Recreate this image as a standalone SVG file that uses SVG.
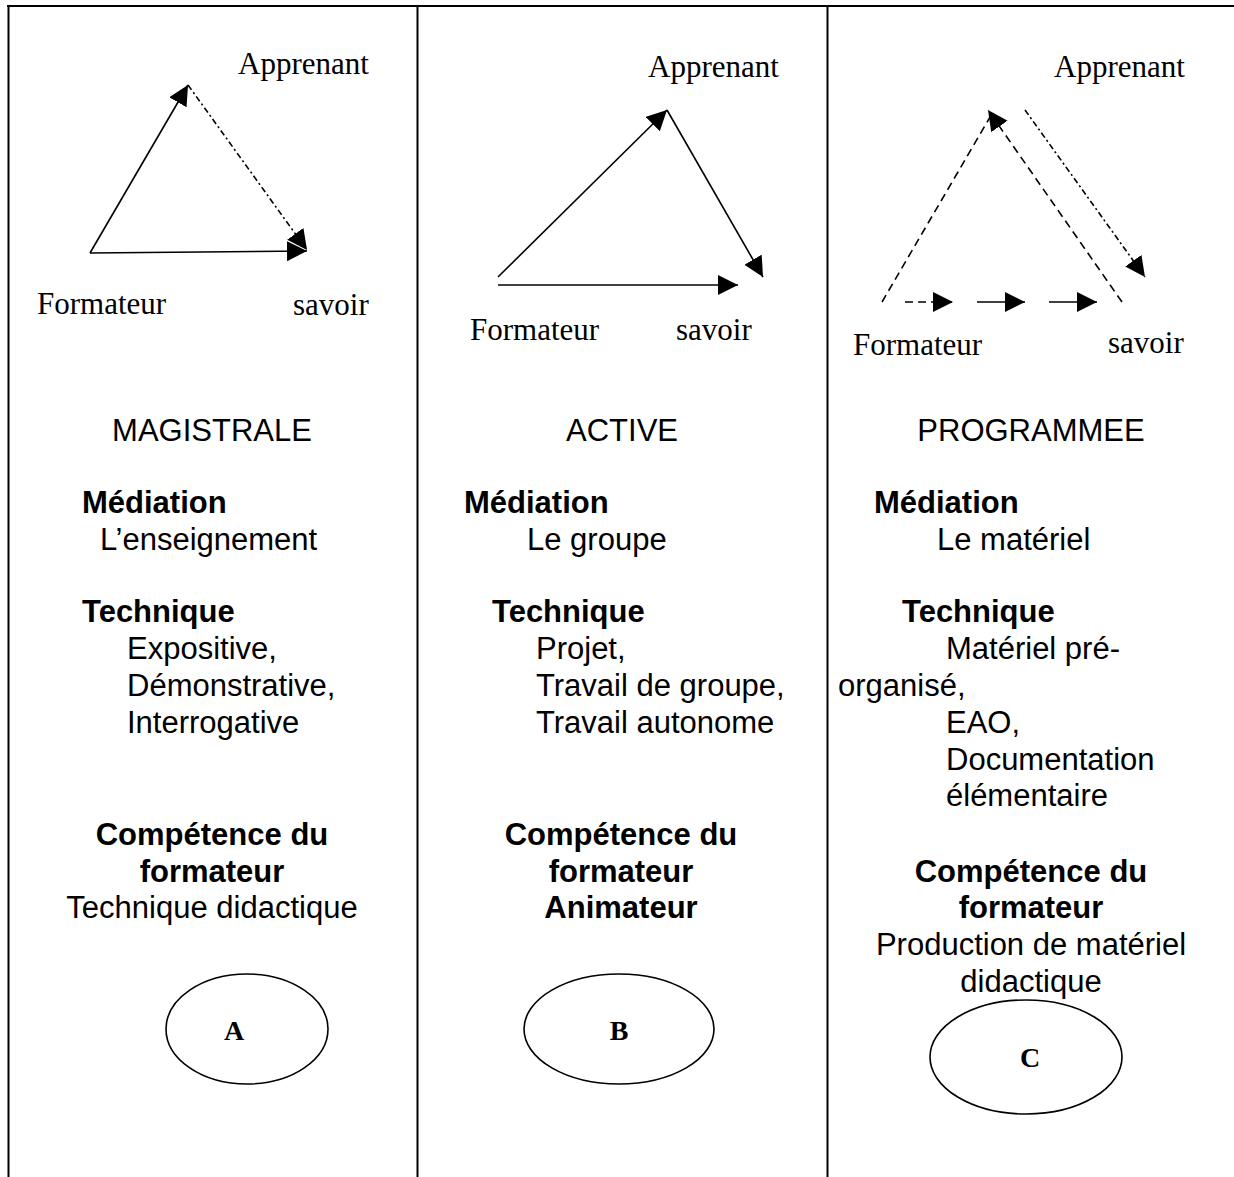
<svg xmlns="http://www.w3.org/2000/svg" width="1234" height="1177" viewBox="0 0 1234 1177">
<style>
.serif{font-family:"Liberation Serif","Times New Roman",serif;font-size:31px;fill:#000}
.sans{font-family:"Liberation Sans",Arial,sans-serif;font-size:31px;fill:#000}
.b{font-weight:bold}
.mid{text-anchor:middle}
.grid{stroke:#000;stroke-width:2;fill:none}
.ln{stroke:#000;stroke-width:1.6;fill:none}
.dash{stroke-dasharray:8 5}
.dd{stroke-dasharray:6 3 2 3}
.lbl{font-family:"Liberation Serif","Times New Roman",serif;font-size:28px;font-weight:bold;text-anchor:middle}
.ell{fill:none;stroke:#000;stroke-width:1.6}
</style>
<defs>
<marker id="arr" markerUnits="userSpaceOnUse" markerWidth="22" markerHeight="22" refX="20" refY="10" orient="auto" viewBox="0 0 22 22">
<path d="M0,0 L20,10 L0,20 z" fill="#000"/>
</marker>
</defs>
<rect width="1234" height="1177" fill="#fff"/>
<g id="table" class="grid">
<line x1="7" y1="6" x2="1234" y2="6"/>
<line x1="8.5" y1="5" x2="8.5" y2="1177"/>
<line x1="417.5" y1="6" x2="417.5" y2="1177"/>
<line x1="827.5" y1="6" x2="827.5" y2="1177"/>
</g>
<g id="connectors">
<line class="ln" x1="90" y1="253" x2="188" y2="85" marker-end="url(#arr)"/>
<line class="ln dd" x1="188" y1="85" x2="307" y2="250" marker-end="url(#arr)"/>
<line class="ln" x1="90" y1="253" x2="307" y2="251" marker-end="url(#arr)"/>
<line class="ln" x1="498" y1="277" x2="667" y2="110" marker-end="url(#arr)"/>
<line class="ln" x1="667" y1="110" x2="763" y2="277" marker-end="url(#arr)"/>
<line class="ln" x1="498" y1="285" x2="738" y2="285" marker-end="url(#arr)"/>
<line class="ln dash" x1="882" y1="302" x2="993" y2="112"/>
<line class="ln dash" x1="1122" y1="302" x2="988" y2="110" marker-end="url(#arr)"/>
<line class="ln dd" x1="1025" y1="110" x2="1145" y2="277" marker-end="url(#arr)"/>
<line class="ln dash" x1="905" y1="302" x2="953" y2="302" marker-end="url(#arr)"/>
<line class="ln" x1="977" y1="302" x2="1025" y2="302" marker-end="url(#arr)"/>
<line class="ln" x1="1049" y1="302" x2="1097" y2="302" marker-end="url(#arr)"/>
</g>
<g id="tri-A-labels">
<text class="serif" x="238" y="74">Apprenant</text>
<text class="serif" x="37" y="314">Formateur</text>
<text class="serif" x="293" y="315">savoir</text>
</g>
<g id="tri-B-labels">
<text class="serif" x="648" y="77">Apprenant</text>
<text class="serif" x="470" y="340">Formateur</text>
<text class="serif" x="676" y="340">savoir</text>
</g>
<g id="tri-C-labels">
<text class="serif" x="1054" y="77">Apprenant</text>
<text class="serif" x="853" y="355">Formateur</text>
<text class="serif" x="1108" y="353">savoir</text>
</g>
<g id="col-A">
<text class="sans mid" x="212" y="441">MAGISTRALE</text>
<text class="sans b" x="82" y="513">Médiation</text>
<text class="sans" x="100" y="550">L’enseignement</text>
<text class="sans b" x="82" y="622">Technique</text>
<text class="sans" x="127" y="659">Expositive,</text>
<text class="sans" x="127" y="696">Démonstrative,</text>
<text class="sans" x="127" y="733">Interrogative</text>
<text class="sans b mid" x="212" y="845">Compétence du</text>
<text class="sans b mid" x="212" y="882">formateur</text>
<text class="sans mid" x="212" y="918">Technique didactique</text>
</g>
<g id="col-B">
<text class="sans mid" x="622" y="441">ACTIVE</text>
<text class="sans b" x="464" y="513">Médiation</text>
<text class="sans" x="527" y="550">Le groupe</text>
<text class="sans b" x="492" y="622">Technique</text>
<text class="sans" x="536" y="659">Projet,</text>
<text class="sans" x="536" y="696">Travail de groupe,</text>
<text class="sans" x="536" y="733">Travail autonome</text>
<text class="sans b mid" x="621" y="845">Compétence du</text>
<text class="sans b mid" x="621" y="882">formateur</text>
<text class="sans b mid" x="621" y="918">Animateur</text>
</g>
<g id="col-C">
<text class="sans mid" x="1031" y="441">PROGRAMMEE</text>
<text class="sans b" x="874" y="513">Médiation</text>
<text class="sans" x="937" y="550">Le matériel</text>
<text class="sans b" x="902" y="622">Technique</text>
<text class="sans" x="946" y="659">Matériel pré-</text>
<text class="sans" x="838" y="696">organisé,</text>
<text class="sans" x="946" y="733">EAO,</text>
<text class="sans" x="946" y="770">Documentation</text>
<text class="sans" x="946" y="806">élémentaire</text>
<text class="sans b mid" x="1031" y="882">Compétence du</text>
<text class="sans b mid" x="1031" y="918">formateur</text>
<text class="sans mid" x="1031" y="955">Production de matériel</text>
<text class="sans mid" x="1031" y="992">didactique</text>
</g>
<g id="node-A">
<ellipse class="ell" cx="247" cy="1029" rx="81" ry="55"/>
<text class="lbl" x="234" y="1040">A</text>
</g>
<g id="node-B">
<ellipse class="ell" cx="619" cy="1029" rx="95" ry="55"/>
<text class="lbl" x="619" y="1040">B</text>
</g>
<g id="node-C">
<ellipse class="ell" cx="1026" cy="1057" rx="96" ry="57"/>
<text class="lbl" x="1030" y="1067">C</text>
</g>
</svg>
